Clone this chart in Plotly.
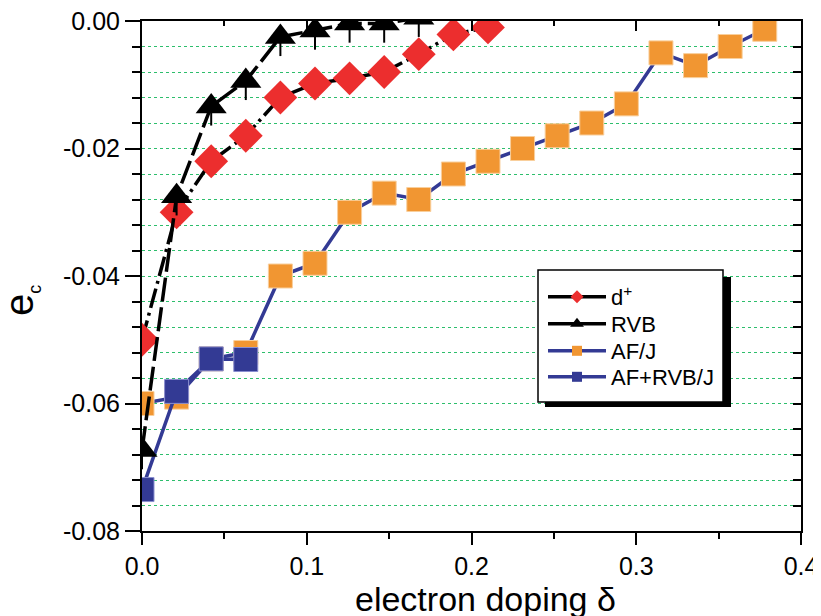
import plotly.graph_objects as go

# ---------------- data ----------------
dplus_x = [0.0, 0.021, 0.042, 0.063, 0.084, 0.105, 0.126, 0.147, 0.168, 0.189, 0.210]
dplus_y = [-0.050, -0.030, -0.022, -0.018, -0.012, -0.0098, -0.0090, -0.0080, -0.0052, -0.0021, -0.0010]

rvb_x = [0.0, 0.021, 0.042, 0.063, 0.084, 0.105, 0.126, 0.147, 0.168]
rvb_y = [-0.0673, -0.0275, -0.0134, -0.0094, -0.0025, -0.0015, -0.0004, -0.0004, 0.0005]
rvb_err = [0.003, 0.003, 0.003, 0.003, 0.003, 0.003, 0.003, 0.003, 0.003]

afj_x = [0.0, 0.021, 0.042, 0.063, 0.084, 0.105, 0.126, 0.147, 0.168, 0.189,
         0.210, 0.231, 0.252, 0.273, 0.294, 0.315, 0.336, 0.357, 0.378]
afj_y = [-0.060, -0.059, -0.053, -0.052, -0.040, -0.038, -0.030, -0.027, -0.028, -0.024,
         -0.022, -0.020, -0.018, -0.016, -0.013, -0.005, -0.007, -0.004, -0.0013]

afrvb_x = [0.0, 0.021, 0.042, 0.063]
afrvb_y = [-0.0735, -0.0581, -0.0530, -0.0531]

series_names = ["d<sup>+</sup>", "RVB", "AF/J", "AF+RVB/J"]

x_tick_vals = [0.0, 0.1, 0.2, 0.3, 0.4]
x_tick_text = ["0.0", "0.1", "0.2", "0.3", "0.4"]
y_tick_vals = [0.0, -0.02, -0.04, -0.06, -0.08]
y_tick_text = ["0.00", "-0.02", "-0.04", "-0.06", "-0.08"]

x_title = "electron doping δ"
y_title = 'e<sub><span style="font-size:18px">c</span></sub>'

# ---------------- styles ----------------
RED = "#ec2e2e"
ORANGE = "#f19632"
NAVY = "#333a94"
BLACK = "#000000"
GRID = "#2dbe6c"
FONT = "Liberation Sans, Arial, sans-serif"

fig = go.Figure()

# AF/J
fig.add_trace(go.Scatter(
    x=afj_x, y=afj_y, mode="lines+markers", showlegend=False,
    line=dict(color=NAVY, width=3.5),
    marker=dict(symbol="square", size=24, color=ORANGE, line=dict(color="#f9cf9c", width=1)),
))
# AF+RVB/J
fig.add_trace(go.Scatter(
    x=afrvb_x, y=afrvb_y, mode="lines+markers", showlegend=False,
    line=dict(color=NAVY, width=3.5),
    marker=dict(symbol="square", size=24, color=NAVY, line=dict(color="#8a8fd0", width=1)),
))
# d+
fig.add_trace(go.Scatter(
    x=dplus_x, y=dplus_y, mode="lines+markers", showlegend=False,
    line=dict(color=BLACK, width=3.5, dash="20px,5px,3px,5px"),
    marker=dict(symbol="diamond", size=26, color=RED),
))
# RVB
fig.add_trace(go.Scatter(
    x=rvb_x, y=rvb_y, mode="lines+markers", showlegend=False,
    line=dict(color=BLACK, width=3.5, dash="24px,6px"),
    marker=dict(symbol="triangle-up", size=27, color=BLACK),
    error_y=dict(type="data", symmetric=False, array=[0] * len(rvb_err),
                 arrayminus=rvb_err, color=BLACK, thickness=2, width=0),
))

# ---------------- geometry (screen pixels; page body has an 8px margin) ----------------
OFF = 8
W, H = 821 - OFF, 616 - OFF
PL, PR, PT, PB = 142, 801, 21, 531          # plot-area edges on screen
L, T = PL - OFF, PT - OFF
R, B = (W + OFF) - PR, (H + OFF) - PB
pw, ph = PR - PL, PB - PT

def px(xs):
    return (xs - PL) / pw

def py(ys):
    return (PB - ys) / ph

# legend-only entries, one small legend per row
leg_styles = [
    dict(line=dict(color=BLACK, width=3.5), marker=dict(symbol="diamond", size=10, color=RED)),
    dict(line=dict(color=BLACK, width=3.5), marker=dict(symbol="triangle-up", size=12, color=BLACK)),
    dict(line=dict(color=NAVY, width=3.5), marker=dict(symbol="square", size=10, color=ORANGE)),
    dict(line=dict(color=NAVY, width=3.5), marker=dict(symbol="square", size=10, color=NAVY)),
]
leg_ids = ["legend", "legend2", "legend3", "legend4"]
leg_rows = [297, 324, 351, 377]
for name, st, lid in zip(series_names, leg_styles, leg_ids):
    fig.add_trace(go.Scatter(x=[None], y=[None], mode="lines+markers", name=name,
                             showlegend=True, legend=lid, xaxis="x2", yaxis="y2", **st))

legend_layouts = {}
for lid, row in zip(leg_ids, leg_rows):
    legend_layouts[lid] = dict(
        x=px(543), y=py(row), xanchor="left", yanchor="middle",
        bgcolor="rgba(0,0,0,0)", borderwidth=0,
        font=dict(size=22, family=FONT), itemwidth=58,
    )

fig.update_layout(
    width=W, height=H,
    margin=dict(l=L, r=R, t=T, b=B, pad=0, autoexpand=False),
    plot_bgcolor="white", paper_bgcolor="white",
    font=dict(family=FONT, color="black"),
    xaxis=dict(
        range=[0, 0.4], tickvals=x_tick_vals, ticktext=x_tick_text, automargin=False,
        ticklabeloverflow="allow",
        ticks="outside", ticklen=12, tickwidth=2, tickcolor="black",
        tickfont=dict(size=25), showline=True, linecolor="black", linewidth=2,
        mirror=True, showgrid=False, zeroline=False,
        minor=dict(dtick=0.05, ticks="outside", ticklen=6, tickwidth=2, tickcolor="black", showgrid=False),
    ),
    yaxis=dict(
        range=[-0.08, 0], tickvals=y_tick_vals, ticktext=y_tick_text, automargin=False,
        ticklabeloverflow="allow",
        ticks="outside", ticklen=15, tickwidth=2, tickcolor="black",
        tickfont=dict(size=25), showline=True, linecolor="black", linewidth=2,
        mirror=True, showgrid=False, zeroline=False,
        minor=dict(tick0=0, dtick=0.004, ticks="outside", ticklen=8, tickwidth=2, tickcolor="black",
                   showgrid=True, gridcolor=GRID, griddash="dot", gridwidth=1),
    ),
    xaxis2=dict(
        overlaying="x", side="top", range=[0, 0.4], dtick=0.1, tick0=0, automargin=False,
        ticks="inside", ticklen=10, tickwidth=2, tickcolor="black",
        showticklabels=False, showline=False, showgrid=False, zeroline=False,
        minor=dict(dtick=0.05, ticks="inside", ticklen=5, tickwidth=2, tickcolor="black", showgrid=False),
    ),
    yaxis2=dict(
        overlaying="y", side="right", range=[-0.08, 0], dtick=0.004, tick0=0, automargin=False,
        ticks="inside", ticklen=8, tickwidth=2, tickcolor="black",
        showticklabels=False, showline=False, showgrid=False, zeroline=False,
    ),
    shapes=[
        dict(type="rect", xref="paper", yref="paper", layer="above",
             x0=px(545), x1=px(731), y0=py(407), y1=py(277),
             fillcolor="black", line=dict(width=0)),
        dict(type="rect", xref="paper", yref="paper", layer="above",
             x0=px(538), x1=px(723), y0=py(402), y1=py(270),
             fillcolor="white", line=dict(color="black", width=1.5)),
    ],
    annotations=[
        dict(text=x_title, xref="paper", yref="paper", x=px(485.5), y=py(599),
             xanchor="center", yanchor="middle", showarrow=False,
             font=dict(size=34, family=FONT)),
        dict(text=y_title, xref="paper", yref="paper", x=px(21), y=py(301),
             xanchor="center", yanchor="middle", showarrow=False, textangle=-90,
             font=dict(size=40, family=FONT)),
    ],
    **legend_layouts,
)

fig.write_html("out.html")
